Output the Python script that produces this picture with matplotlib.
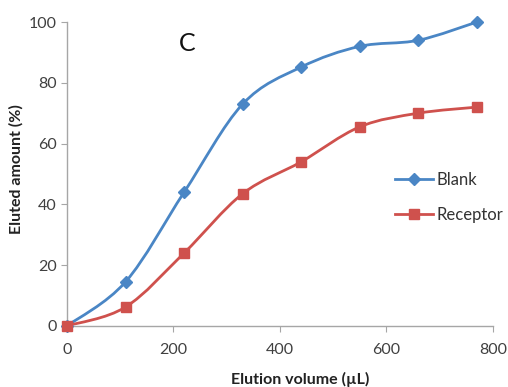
import matplotlib
matplotlib.use("Agg")
import matplotlib.pyplot as plt
from matplotlib.path import Path
from matplotlib.patches import PathPatch
from matplotlib.lines import Line2D

plt.rcParams['font.family'] = ['Lato', 'DejaVu Sans']

volume = [0, 110, 220, 330, 440, 550, 660, 770]
blank = [0, 14.5, 44, 73, 85.2, 92, 94, 100]
receptor = [0, 6.2, 24, 43.5, 54, 65.5, 70, 72]
xticks = [0, 200, 400, 600, 800]
yticks = [0, 20, 40, 60, 80, 100]

blue = '#4A86C5'
red = '#CF514D'
axis_gray = '#A6A6A6'


def smooth_path(xs, ys):
    n = len(xs)
    verts = [(xs[0], ys[0])]
    codes = [Path.MOVETO]
    for i in range(n - 1):
        x0, y0 = xs[max(i - 1, 0)], ys[max(i - 1, 0)]
        x1, y1 = xs[i], ys[i]
        x2, y2 = xs[i + 1], ys[i + 1]
        x3, y3 = xs[min(i + 2, n - 1)], ys[min(i + 2, n - 1)]
        c1 = (x1 + (x2 - x0) / 6, y1 + (y2 - y0) / 6)
        c2 = (x2 - (x3 - x1) / 6, y2 - (y3 - y1) / 6)
        verts += [c1, c2, (x2, y2)]
        codes += [Path.CURVE4] * 3
    return Path(verts, codes)


fig = plt.figure(figsize=(5.08, 3.87), dpi=100)
ax = fig.add_axes([0.132, 0.158, 0.838, 0.785])

for ys, col, mk, ms in [(blank, blue, 'D', 6.5), (receptor, red, 's', 7.5)]:
    ax.add_patch(PathPatch(smooth_path(volume, ys), facecolor='none',
                           edgecolor=col, lw=2.0, zorder=2))
    ax.plot(volume, ys, linestyle='none', marker=mk, markersize=ms,
            color=col, zorder=3, clip_on=False)

ax.set_xlim(0, 800)
ax.set_ylim(0, 100)
ax.set_xticks(xticks)
ax.set_yticks(yticks)
for s in ['top', 'right']:
    ax.spines[s].set_visible(False)
for s in ['left', 'bottom']:
    ax.spines[s].set_color(axis_gray)
    ax.spines[s].set_linewidth(1.0)
ax.tick_params(axis='both', colors=axis_gray, labelcolor='#404040',
               labelsize=11.5, length=4, direction='out')
ax.tick_params(axis='x', pad=8)

ax.set_xlabel('Elution volume (µL)', fontsize=11.5, fontweight='bold', color='#222222')
ax.set_ylabel('Eluted amount (%)', fontsize=11.5, fontweight='bold', color='#222222')
ax.xaxis.set_label_coords(0.547, -0.152)
ax.yaxis.set_label_coords(-0.101, 0.516)

ax.text(0.282, 0.93, 'C', transform=ax.transAxes, fontsize=18, color='#111111',
        ha='center', va='center')

handles = [Line2D([], [], color=blue, lw=2.0, marker='D', markersize=6.5),
           Line2D([], [], color=red, lw=2.0, marker='s', markersize=7.5)]
ax.legend(handles, ['Blank', 'Receptor'], loc='center left',
          bbox_to_anchor=(0.77, 0.423), frameon=False, fontsize=12,
          borderaxespad=0, borderpad=0,
          handlelength=2.3, handletextpad=0.2, labelspacing=1.1,
          labelcolor='#333333')

fig.savefig('out.png', dpi=100)
